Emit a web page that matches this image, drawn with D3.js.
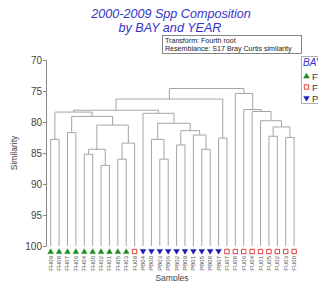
<!DOCTYPE html>
<html><head><meta charset="utf-8">
<script src="https://cdn.jsdelivr.net/npm/d3@7"></script>
<style>body{margin:0;background:#fff}svg{display:block}</style>
</head><body><div id="chart"></div>
<script>
// Leaf order (samples) and their BAY group
const samples = ["FH09","FH08","FH07","FH06","FH04","FH00","FH02","FH01","FH05","FH03",
  "FU09","PB04","PB00","PB03","PB06","PB02","PB09","PB01","PB05","PB08",
  "PB07","FU07","FU08","FU06","FU04","FU01","FU05","FU02","FU03","FU00"];
const groups = samples.map(s => s.slice(0,2));
const bays = ["FH","FU","PB"];
// Merges: [child A, child B, similarity]; indices < 30 are samples, node k is 30+k
const merges = [
  [0,1,82.8],[2,3,81.7],[4,5,85.2],[6,7,87.0],[32,33,84.4],
  [8,9,86.0],[35,10,83.4],[34,36,80.5],[31,37,79.1],[30,38,78.4],
  [13,14,86.0],[12,40,82.8],[15,16,83.7],[18,19,84.4],[17,43,82.1],
  [42,44,81.4],[41,45,80.2],[11,46,78.6],[39,47,78.1],[20,21,82.6],
  [48,49,76.3],[26,27,82.3],[28,29,82.5],[51,52,80.8],[25,53,79.8],
  [24,54,78.3],[23,55,78.0],[22,56,75.4],[50,57,74.6]
];
const yTicks = [70,75,80,85,90,95,100];

const W = 318, H = 281;
const svg = d3.select("#chart").append("svg").attr("width", W).attr("height", H)
  .style("font-family", "'Liberation Sans', Arial, sans-serif");

const x = d3.scalePoint().domain(samples).range([50.7, 294.1]);
const y = d3.scaleLinear().domain([70,100]).range([60,246]);

// titles
svg.append("text").attr("x", 171).attr("y", 18.3).attr("text-anchor","middle")
  .attr("font-size", 12.6).attr("font-style","italic").attr("fill","#3434c8")
  .text("2000-2009 Spp Composition");
svg.append("text").attr("x", 170).attr("y", 31.5).attr("text-anchor","middle")
  .attr("font-size", 12.6).attr("font-style","italic").attr("fill","#3434c8")
  .text("by BAY and YEAR");

// info box
svg.append("rect").attr("x", 162.5).attr("y", 35.5).attr("width", 139).attr("height", 18)
  .attr("fill","#fff").attr("stroke","#666").attr("stroke-width",0.8);
svg.append("text").attr("x", 165).attr("y", 43).attr("font-size", 7.1).attr("fill","#222")
  .text("Transform: Fourth root");
svg.append("text").attr("x", 165).attr("y", 51.3).attr("font-size", 7.1).attr("fill","#222")
  .text("Resemblance: S17 Bray Curtis similarity");

// y axis
const ax = svg.append("g").attr("transform","translate(46,0)")
  .call(d3.axisLeft(y).tickValues(yTicks).tickSize(3).tickSizeOuter(0));
ax.select(".domain").attr("stroke","#888");
ax.selectAll(".tick line").attr("stroke","#888");
ax.selectAll(".tick text").attr("font-size", 10).attr("fill","#444")
  .attr("font-family","'Liberation Sans', Arial, sans-serif").attr("x", -4);

svg.append("text").attr("transform","translate(17,153) rotate(-90)")
  .attr("text-anchor","middle").attr("font-size", 8.5).attr("fill","#444").text("Similarity");

// dendrogram node positions
const nx = samples.map(s => x(s));
const ny = samples.map(() => y(100));
merges.forEach(([a,b,s]) => { nx.push((nx[a]+nx[b])/2); ny.push(y(s)); });

svg.append("g").selectAll("path").data(merges).join("path")
  .attr("fill","none").attr("stroke","#a4a4a4").attr("stroke-width",1)
  .attr("d", ([a,b,s]) => {
    const yy = y(s);
    return `M${nx[a]},${ny[a]}V${yy}H${nx[b]}V${ny[b]}`;
  });

// markers
const colors = {FH:"#1f8a1f", FU:"#e03a3a", PB:"#1c1cb4"};
const markerPath = (g, cx, cy) => {
  if (g === "FH") return `M${cx},${cy-2.7}L${cx+2.8},${cy+2.1}L${cx-2.8},${cy+2.1}Z`;
  if (g === "PB") return `M${cx},${cy+2.7}L${cx+2.8},${cy-2.1}L${cx-2.8},${cy-2.1}Z`;
  return `M${cx-2.2},${cy-2.2}h4.4v4.4h-4.4Z`;
};
const drawMarker = (sel, g, cx, cy) => {
  sel.append("path").attr("d", markerPath(g, cx, cy))
    .attr("fill", g === "FU" ? "#fff" : colors[g])
    .attr("stroke", colors[g]).attr("stroke-width", g === "FU" ? 1 : 0.5);
};
const mk = svg.append("g");
samples.forEach((s,i) => drawMarker(mk, groups[i], x(s), 251.5));

// leaf labels
svg.append("g").selectAll("text").data(samples).join("text")
  .attr("transform", d => `translate(${x(d)+2},256) rotate(-90)`)
  .attr("text-anchor","end").attr("font-size", 6).attr("fill","#555").text(d => d);

svg.append("text").attr("x", 172).attr("y", 281).attr("text-anchor","middle")
  .attr("font-size", 8.5).attr("fill","#444").text("Samples");

// legend
svg.append("rect").attr("x", 301.5).attr("y", 56.5).attr("width", 40).attr("height", 47)
  .attr("fill","#fff").attr("stroke","#999").attr("stroke-width",0.8);
svg.append("text").attr("x", 303).attr("y", 66).attr("font-size", 10).attr("font-style","italic")
  .attr("fill","#3434c8").text("BAY");
bays.forEach((b,i) => {
  const cy = [76, 87, 98.5][i];
  drawMarker(svg, b, 306.5, cy);
  svg.append("text").attr("x", 312).attr("y", cy+3.5).attr("font-size", 9.5).attr("fill","#333").text(b);
});
</script></body></html>
